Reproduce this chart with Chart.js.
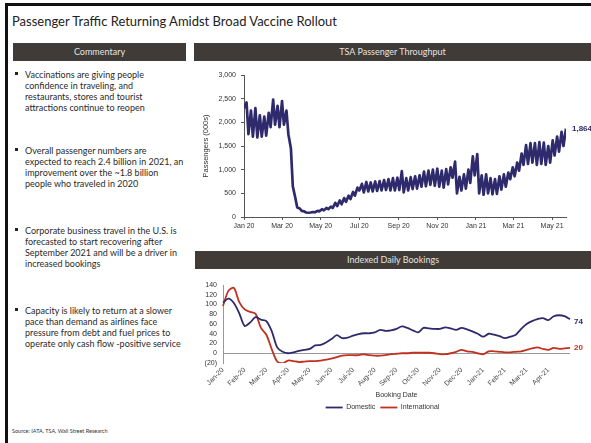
<!DOCTYPE html>
<html>
<head>
<meta charset="utf-8">
<script src="https://cdn.jsdelivr.net/npm/chart.js@4.4.1/dist/chart.umd.min.js"></script>
<style>
  body { margin: 0; width: 591px; height: 443px; overflow: hidden; background: #fff; position: relative; font-family: Lato, "Open Sans", sans-serif; color: #333; }
  .frame { position: absolute; left: 5px; top: 3px; width: 620px; height: 470px; border-top: 3px solid #111; border-left: 3px solid #111; }
  .title { position: absolute; left: 12px; top: 13px; font-size: 13px; color: #222; white-space: nowrap; }
  .bar { position: absolute; height: 18px; line-height: 18px; background: #403b37; color: #e2e2e2; font-size: 9px; text-align: center; }
  .bullet { position: absolute; left: 25px; font-size: 9px; line-height: 11px; white-space: nowrap; color: #2a2a2a; }
  .bullet::before { content: ''; position: absolute; left: -10px; top: 3px; width: 3px; height: 3px; background: #222; }
  .source { position: absolute; left: 12px; top: 428px; font-size: 5.5px; color: #333; white-space: nowrap; }
  canvas { position: absolute; }
</style>
</head>
<body>
<div class="frame"></div>
<div class="title">Passenger Traffic Returning Amidst Broad Vaccine Rollout</div>

<div class="bar" style="left:13px; top:43px; width:173px;">Commentary</div>
<div class="bar" style="left:194px; top:43px; width:397px;">TSA Passenger Throughput</div>
<div class="bar" style="left:195px; top:251px; width:396px;">Indexed Daily Bookings</div>

<div class="bullet" style="top:69px;">Vaccinations are giving people<br>confidence in traveling, and<br>restaurants, stores and tourist<br>attractions continue to reopen</div>
<div class="bullet" style="top:145px;">Overall passenger numbers are<br>expected to reach 2.4 billion in 2021, an<br>improvement over the ~1.8 billion<br>people who traveled in 2020</div>
<div class="bullet" style="top:225px;">Corporate business travel in the U.S. is<br>forecasted to start recovering after<br>September 2021 and will be a driver in<br>increased bookings</div>
<div class="bullet" style="top:305px;">Capacity is likely to return at a slower<br>pace than demand as airlines face<br>pressure from debt and fuel prices to<br>operate only cash flow -positive service</div>

<div class="source">Source: IATA, TSA, Wall Street Research</div>

<canvas id="tsaChart" width="396" height="178" style="left:195px; top:62px;"></canvas>
<canvas id="bookChart" width="396" height="149" style="left:195px; top:272px;"></canvas>

<script>
const navy = "#2e2a6c";
const red = "#c0321f";

// TSA throughput (000s), one midweek and one Sunday reading per week, starting Wed 1 Jan 2020
const tsaMidweek = [
  2300, 1750, 1700, 1680, 1700, 1720, 1900, 1950, 1900, 1950,
  1750, 650, 200, 130, 95, 95, 100, 120, 140, 165,
  190, 230, 270, 320, 380, 450, 560, 520, 540, 540,
  550, 560, 570, 560, 560, 570, 520, 560, 590, 600,
  640, 650, 680, 660, 640, 620, 690, 830, 500, 560,
  600, 720, 880, 500, 470, 500, 480, 490, 580, 640,
  800, 860, 980, 1100, 1120, 1150, 1100, 1120, 1100, 1150,
  1300, 1380, 1500
];
const tsaSunday = [
  2420, 2250, 2300, 2150, 2120, 2200, 2480, 2350, 2450, 2250,
  1450, 400, 180, 120, 90, 105, 130, 165, 190, 220,
  300, 350, 400, 450, 530, 620, 700, 740, 730, 750,
  760, 780, 800, 820, 830, 970, 820, 840, 860, 880,
  960, 980, 1000, 1020, 980, 1010, 1050, 1170, 850, 900,
  1000, 1280, 1330, 880, 900, 820, 800, 860, 900, 940,
  1050, 1150, 1340, 1520, 1560, 1560, 1580, 1570, 1500, 1620,
  1700, 1800, 1864
];
const tsaTickDays = [0, 60, 121, 182, 244, 305, 366, 425, 486];
const tsaTickLabels = ["Jan 20", "Mar 20", "May 20", "Jul 20", "Sep 20", "Nov 20", "Jan 21", "Mar 21", "May 21"];
const tsaEndLabel = "1,864";

// indexed bookings, weekly (4 per month) from Jan-20
const bookMonths = ["Jan-20", "Feb-20", "Mar-20", "Apr-20", "May-20", "Jun-20", "Jul-20", "Aug-20",
  "Sep-20", "Oct-20", "Nov-20", "Dec-20", "Jan-21", "Feb-21", "Mar-21", "Apr-21"];
const bookDomestic = [
  104, 112, 103, 82, 56, 63, 74, 69, 66, 45,
  12, 3, 0, 2, 5, 7, 9, 16, 17, 22,
  29, 37, 31, 32, 36, 39, 41, 41, 43, 48,
  46, 47, 50, 55, 52, 47, 43, 52, 51, 50,
  50, 53, 51, 48, 52, 49, 45, 40, 34, 40,
  38, 35, 31, 34, 38, 50, 60, 66, 70, 72,
  68, 76, 78, 76, 70
];
const bookInternational = [
  97, 128, 134, 105, 90, 85, 81, 52, 38, 8,
  -17, -21, -15, -16, -18, -17, -16, -16, -15, -13,
  -11, -8, -5, -4, -4, -4, -2, -4, -5, -5,
  -4, -2, -1, 0, 0, 1, 1, 1, 1, 0,
  -2, -2, 0, 3, 7, 4, 3, 0, -2, 4,
  4, 3, 2, 2, 3, 4, 7, 10, 12, 9,
  7, 11, 9, 10, 11
];
const bookEndLabels = ["74", "20"];

Chart.defaults.font.family = "'Liberation Sans', Arial, sans-serif";
Chart.defaults.font.size = 7;
Chart.defaults.color = "#333";

const endLabels = {
  id: "endLabels",
  afterDatasetsDraw(chart, args, opts) {
    const { ctx } = chart;
    opts.texts.forEach((text, i) => {
      const pt = chart.getDatasetMeta(i).data.at(-1);
      ctx.save();
      ctx.font = "bold 8px 'Liberation Sans', Arial, sans-serif";
      ctx.fillStyle = chart.data.datasets[i].borderColor;
      ctx.textBaseline = "middle";
      ctx.fillText(text, pt.x + opts.dx, pt.y + (opts.dy[i] || 0));
      ctx.restore();
    });
  }
};

const tsaPoints = [];
tsaMidweek.forEach((v, k) => {
  tsaPoints.push({ x: k * 7, y: v });
  tsaPoints.push({ x: k * 7 + 4, y: tsaSunday[k] });
});

new Chart(document.getElementById("tsaChart"), {
  type: "line",
  data: {
    datasets: [{
      label: "TSA",
      data: tsaPoints,
      borderColor: navy,
      borderWidth: 2.7,
      borderJoinStyle: "round",
      pointRadius: 0,
      tension: 0
    }]
  },
  options: {
    responsive: false,
    animation: false,
    layout: { padding: { top: 13, right: 25, left: 0, bottom: 0 } },
    plugins: {
      legend: { display: false },
      tooltip: { enabled: false },
      endLabels: { texts: [tsaEndLabel], dx: 6, dy: [0] }
    },
    scales: {
      x: {
        type: "linear",
        min: 0,
        max: 508,
        afterBuildTicks: (s) => { s.ticks = tsaTickDays.map(v => ({ value: v })); },
        afterFit: (s) => { s.height = 23; },
        ticks: {
          autoSkip: false,
          maxRotation: 0,
          padding: 2,
          callback: (v) => tsaTickLabels[tsaTickDays.indexOf(v)]
        },
        grid: { drawOnChartArea: false, tickLength: 3, color: "#555" },
        border: { color: "#555" }
      },
      y: {
        min: 0,
        max: 3000,
        afterFit: (s) => { s.width = 49; },
        ticks: {
          stepSize: 500,
          padding: 5,
          callback: (v) => v.toLocaleString("en-US")
        },
        title: { display: true, text: "Passengers (000s)", font: { size: 7.5 }, padding: { top: 6, bottom: 0 } },
        grid: { drawOnChartArea: false, tickLength: 3, color: "#555" },
        border: { color: "#555" }
      }
    }
  },
  plugins: [endLabels]
});

new Chart(document.getElementById("bookChart"), {
  type: "line",
  data: {
    labels: bookDomestic.map((_, i) => (i % 4 === 0 ? bookMonths[i / 4] || "" : "")),
    datasets: [
      { label: "Domestic", data: bookDomestic, borderColor: navy, backgroundColor: navy, borderWidth: 1.8, pointRadius: 0, tension: 0.3 },
      { label: "International", data: bookInternational, borderColor: red, backgroundColor: red, borderWidth: 1.8, pointRadius: 0, tension: 0.3 }
    ]
  },
  options: {
    responsive: false,
    animation: false,
    layout: { padding: { top: 13, right: 21, left: 0, bottom: 0 } },
    plugins: {
      legend: {
        position: "bottom",
        labels: { usePointStyle: true, pointStyle: "line", pointStyleWidth: 17, boxHeight: 7, padding: 5, font: { size: 7 }, color: "#333" }
      },
      tooltip: { enabled: false },
      endLabels: { texts: bookEndLabels, dx: 4, dy: [3, 0] }
    },
    scales: {
      x: {
        afterFit: (s) => { s.height = 36; },
        ticks: { autoSkip: false, minRotation: 45, maxRotation: 45, padding: -5, color: "#444" },
        grid: { display: false },
        border: { display: false },
        title: { display: true, text: "Booking Date", font: { size: 7 }, padding: { top: 0, bottom: 0 } }
      },
      y: {
        min: -20,
        max: 140,
        afterFit: (s) => { s.width = 28; },
        ticks: {
          stepSize: 20,
          autoSkip: false,
          padding: 6,
          callback: (v) => (v < 0 ? "(" + (-v) + ")" : v)
        },
        grid: {
          drawTicks: false,
          color: (ctx) => (ctx.tick && ctx.tick.value === 0 ? "#999" : "transparent")
        },
        border: { color: "#999" }
      }
    }
  },
  plugins: [endLabels]
});
</script>
</body>
</html>
